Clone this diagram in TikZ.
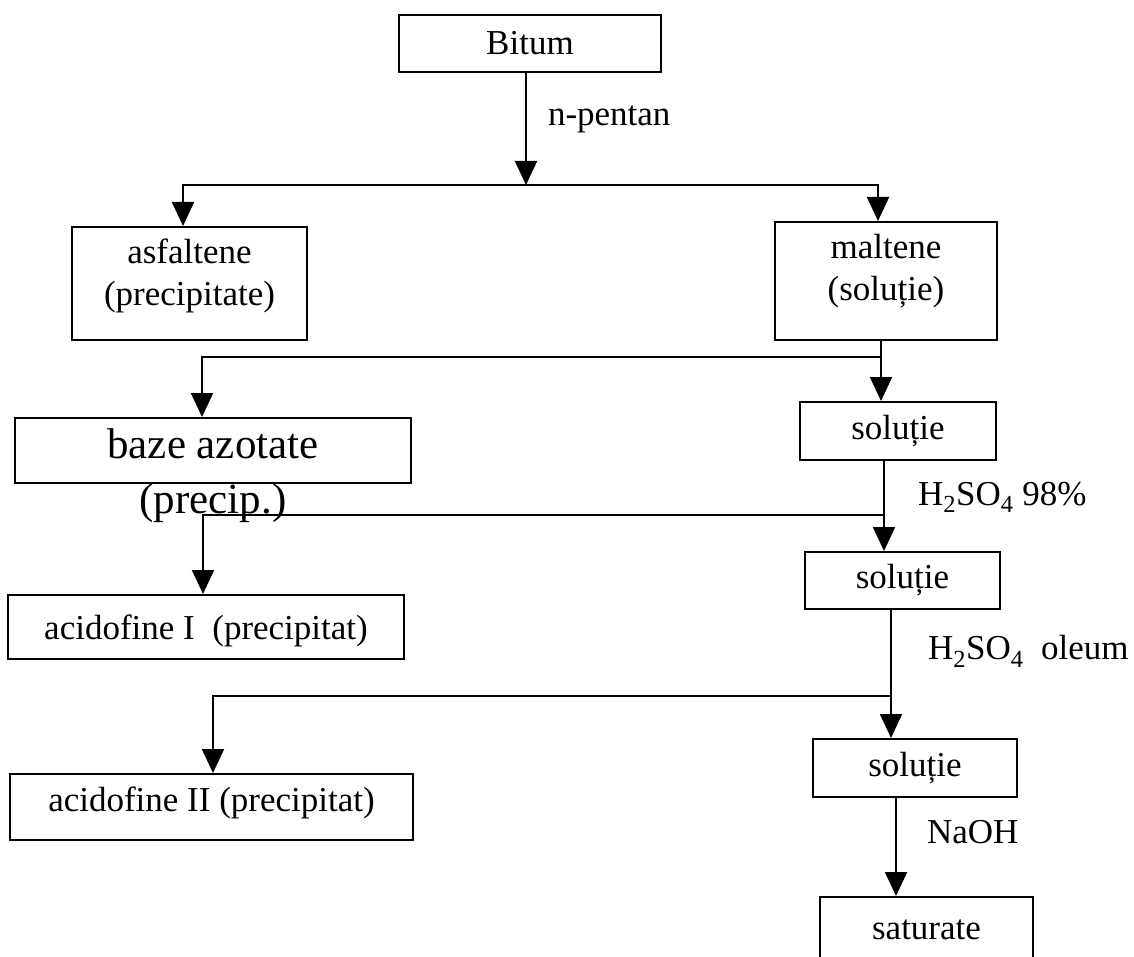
\documentclass[tikz,border=0pt]{standalone}
\usepackage{fontspec}
\setmainfont{Liberation Serif}
\usetikzlibrary{arrows.meta}

\begin{document}
\begin{tikzpicture}[
  x=1pt, y=-1pt,
  font=\fontsize{35}{42}\selectfont,
  bx/.style={draw, line width=2pt, inner sep=0pt, align=center},
  big/.style={font=\fontsize{43}{50}\selectfont},
  arr/.style={-{Triangle[length=24pt, width=22pt]}, line width=2pt},
  lbl/.style={anchor=base west, inner sep=0pt}
]
\useasboundingbox (0,0) rectangle (1134,957);

% casete
\node[bx, minimum width=262pt, minimum height=57pt] (bitum) at (530,43.5) {Bitum};
\node[bx, minimum width=235pt, minimum height=113pt, text depth=22pt] (asf) at (189.5,283.5) {asfaltene\\(precipitate)};
\node[bx, minimum width=222pt, minimum height=118pt, text depth=27pt] (malt) at (886,281) {maltene\\(soluție)};
\node[bx, big, minimum width=396pt, minimum height=65pt, text depth=14pt,
      label={[big, inner sep=0pt, yshift=1pt]below:(precip.)}] (baze) at (213,450.5) {baze azotate};
\node[bx, minimum width=196pt, minimum height=58pt] (sol1) at (898,431) {soluție};
\node[bx, minimum width=195pt, minimum height=57pt] (sol2) at (902.5,580.5) {soluție};
\node[bx, minimum width=396pt, minimum height=64pt, text depth=0pt] (acid1) at (206,627) {acidofine I\ \ (precipitat)};
\node[bx, minimum width=204pt, minimum height=58pt] (sol3) at (915,768) {soluție};
\node[bx, minimum width=403pt, minimum height=66pt, text depth=16pt] (acid2) at (211.5,807) {acidofine II (precipitat)};
\node[bx, minimum width=213pt, minimum height=66pt] (sat) at (926.5,930) {saturate};

% ramificatii
\coordinate (j1) at (526,185);
\coordinate (j1l) at (183,185);
\coordinate (j1r) at (878,185);
\coordinate (j2) at (881,357);
\coordinate (j2l) at (202,357);
\coordinate (j3) at (884,515);
\coordinate (j3l) at (203,515);
\coordinate (j4) at (891,696);
\coordinate (j4l) at (213,696);
\coordinate (j5) at (896,850);

\draw[arr] (bitum.south -| j1) -- node[lbl, pos=0.47, xshift=21pt]{n-pentan} (j1);
\draw[arr] (j1r) -- (j1l) -- (j1l |- asf.north);
\draw[arr] (j1l) -- (j1r) -- (j1r |- malt.north);

\draw[arr] (malt.south -| j2) -- (j2 |- sol1.north);
\draw[arr] (j2) -- (j2l) -- (j2l |- baze.north);

\draw[arr] (sol1.south -| j3) -- node[lbl, pos=0.49, xshift=33pt]{H\textsubscript{2}SO\textsubscript{4} 98\%} (j3 |- sol2.north);
\draw[arr] (j3) -- (j3l) -- (j3l |- acid1.north);

\draw[arr] (sol2.south -| j4) -- node[lbl, pos=0.39, xshift=36pt]{H\textsubscript{2}SO\textsubscript{4}\ \ oleum} (j4 |- sol3.north);
\draw[arr] (j4) -- (j4l) -- (j4l |- acid2.north);

\draw[arr] (sol3.south -| j5) -- node[lbl, pos=0.46, xshift=30pt]{NaOH} (j5 |- sat.north);
\end{tikzpicture}
\end{document}
